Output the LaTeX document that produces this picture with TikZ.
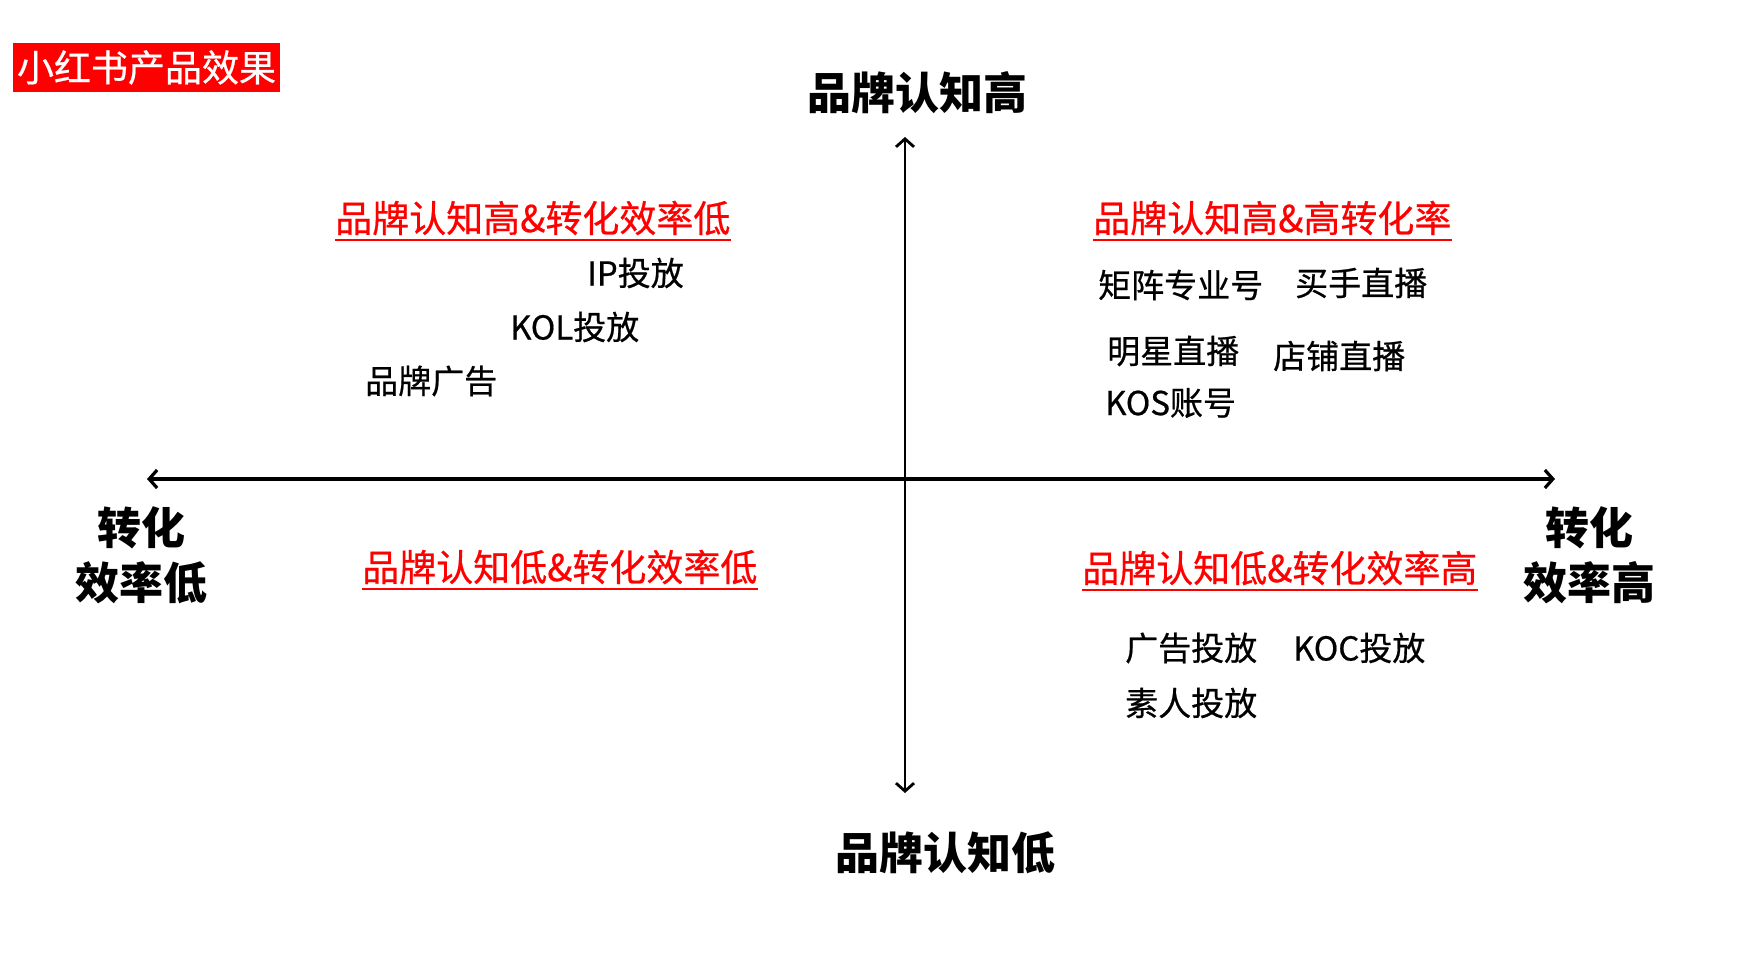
\documentclass[tikz,border=0pt]{standalone}
\usepackage{fontspec}
\setmainfont{Noto Sans CJK SC}
\newfontfamily\medfont[FakeBold=0.6]{Noto Sans CJK SC}
\usetikzlibrary{arrows.meta}
\definecolor{brandred}{HTML}{FF0000}
\tikzset{
  axisline/.style={line width=3.2pt,
    {Straight Barb[length=8pt,width=18pt]}-{Straight Barb[length=8pt,width=18pt]}},
  vaxisline/.style={line width=2.8pt,
    {Straight Barb[length=8pt,width=18pt]}-{Straight Barb[length=8pt,width=18pt]}},
  axislabel/.style={font=\fontsize{44}{55}\selectfont\bfseries, align=center, inner sep=0pt},
  heading/.style={font=\medfont\fontsize{37}{44}\selectfont, text=brandred, anchor=west, inner sep=0pt},
  itemtext/.style={font=\medfont\fontsize{33}{40}\selectfont, anchor=west, inner sep=0pt},
  uline/.style={draw=brandred, line width=2pt},
  titlebox/.style={fill=brandred, text=white, font=\medfont\fontsize{37}{37}\selectfont,
    minimum width=267pt, minimum height=49pt, inner sep=0pt},
}
\begin{document}
\begin{tikzpicture}[x=1pt,y=-1pt]
\useasboundingbox (0,0) rectangle (1743,979);
\fill[white] (0,0) rectangle (1743,979);

% title
\node[titlebox] (title) at (146.5,67.5) {小红书产品效果};

% axes
\coordinate (xl) at (147,479);
\coordinate (xr) at (1555,479);
\coordinate (yt) at (905,137);
\coordinate (yb) at (905,793);
\draw[axisline] (xl) -- (xr);
\draw[vaxisline] (yt) -- (yb);

% axis labels
\node[axislabel] (toplab) at (917,93) {品牌认知高};
\node[axislabel] (botlab) at (945,853) {品牌认知低};
\node[axislabel] (leftlab) at (141,555) {转化\\效率低};
\node[axislabel] (rightlab) at (1589,555) {转化\\效率高};

% quadrant headings
\node[heading] (hul) at (335,218) {品牌认知高\&转化效率低};
\node[heading] (hur) at (1093,218) {品牌认知高\&高转化率};
\node[heading] (hll) at (362,567) {品牌认知低\&转化效率低};
\node[heading] (hlr) at (1082,568) {品牌认知低\&转化效率高};
\foreach \h in {hul,hur,hll,hlr}
  \draw[uline] ([yshift=-5pt]\h.south west) -- ([yshift=-5pt]\h.south east);

% upper-left items
\node[itemtext] (ip) at (587,273) {IP投放};
\node[itemtext] (kol) at (510,327) {KOL投放};
\node[itemtext] (ppgg) at (365,381) {品牌广告};

% upper-right items
\node[itemtext] (jz) at (1098,285) {矩阵专业号};
\node[itemtext] (ms) at (1295,283) {买手直播};
\node[itemtext] (mx) at (1107,351) {明星直播};
\node[itemtext] (dp) at (1273,356) {店铺直播};
\node[itemtext] (kos) at (1105,403) {KOS账号};

% lower-right items
\node[itemtext] (ggtf) at (1125,648) {广告投放};
\node[itemtext] (koc) at (1293,648) {KOC投放};
\node[itemtext] (srtf) at (1125,703) {素人投放};
\end{tikzpicture}
\end{document}
